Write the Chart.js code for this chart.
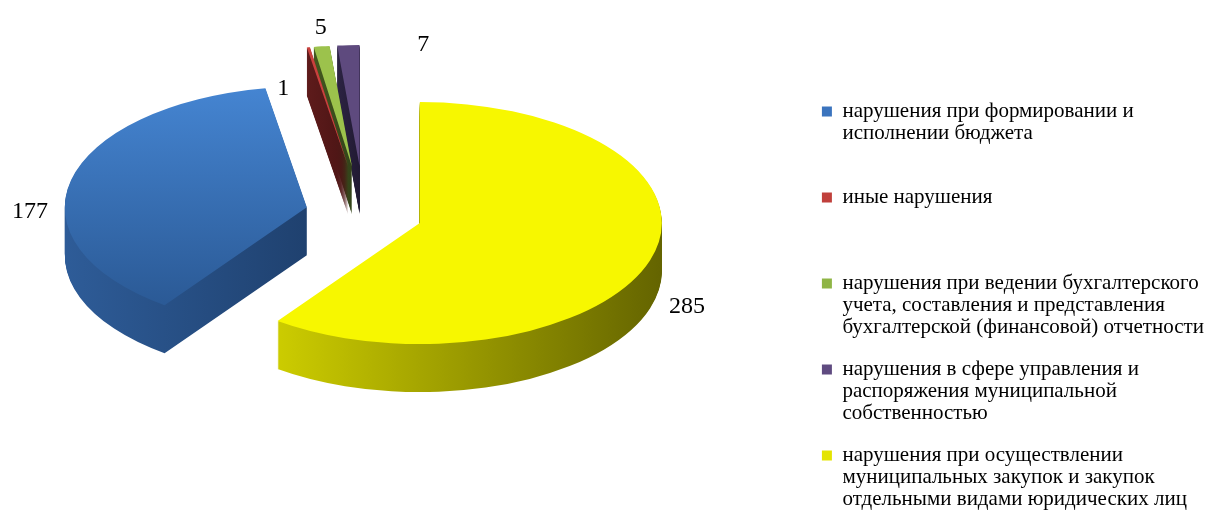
<!DOCTYPE html>
<html>
<head>
<meta charset="utf-8">
<script src="https://cdn.jsdelivr.net/npm/chart.js@4"></script>
<style>
    html, body { margin: 0; background: #ffffff; }
    #wrap { width: 1211px; height: 514px; position: relative; }
</style>
</head>
<body>
<div id="wrap"><canvas id="pieChart"></canvas></div>
<script>
// legend lines are wrapped as in the original
const categories = [
    ['нарушения при формировании и', 'исполнении бюджета'],
    ['иные нарушения'],
    ['нарушения при ведении бухгалтерского', 'учета, составления и представления', 'бухгалтерской (финансовой) отчетности'],
    ['нарушения в сфере управления и', 'распоряжения муниципальной', 'собственностью'],
    ['нарушения при осуществлении', 'муниципальных закупок и закупок', 'отдельными видами юридических лиц']
];
const counts = [177, 1, 5, 7, 285];

const topColors = ['#3a76c2', '#c9413d', '#9cc24c', '#5e4a7e', '#f7f700'];
const sideColors = [
    ['#2e5c98', '#1f416f'],
    ['#5e1b1b', '#4a1414'],
    ['#43581f', '#33431a'],
    ['#2c2342', '#211a33'],
    ['#cccc00', '#646400']
];
const legendColors = ['#3b74be', '#c0403c', '#8fb545', '#5f4b80', '#e4e400'];
const explode = [58.7, 96, 96, 96, 58.7];
const labelNudge = [[-41, 32], [-25, 41], [-1, -19], [75, 0], [37, 46]];

// fake 3D: where the pie sits on screen, how flat it is and how thick
const PIE = { cx: 364, cy: 214, rx: 242, tilt: 0.5, depth: 48 };

function tilt(ctx, arc, i, dy) {
    const k = PIE.rx / arc.outerRadius;
    const mid = (arc.startAngle + arc.endAngle) / 2;
    ctx.translate(PIE.cx, PIE.cy + dy);
    ctx.scale(k, k * PIE.tilt);
    ctx.translate(-arc.x + Math.cos(mid) * explode[i] / k, -arc.y + Math.sin(mid) * explode[i] / k);
    return k;
}

const pie3d = {
    id: 'pie3d',
    beforeDatasetsDraw(chart) {
        const ctx = chart.ctx;
        const arcs = chart.getDatasetMeta(0).data;
        // x range of every slice, for the side shading
        const ranges = arcs.map(arc => {
            let lo = arc.x, hi = arc.x;
            for (let j = 0; j <= 24; j++) {
                const a = arc.startAngle + (arc.endAngle - arc.startAngle) * j / 24;
                const x = arc.x + Math.cos(a) * arc.outerRadius;
                lo = Math.min(lo, x); hi = Math.max(hi, x);
            }
            return [lo, hi];
        });
        // side walls: the same arcs stacked downwards
        for (let d = PIE.depth; d > 0; d--) {
            arcs.forEach((arc, i) => {
                ctx.save();
                tilt(ctx, arc, i, d);
                const g = ctx.createLinearGradient(ranges[i][0], 0, ranges[i][1], 0);
                g.addColorStop(0, sideColors[i][0]);
                g.addColorStop(1, sideColors[i][1]);
                const o = arc.options;
                arc.options = Object.assign(Object.create(o), { backgroundColor: g, borderWidth: 0 });
                arc.draw(ctx);
                arc.options = o;
                ctx.restore();
            });
        }
        // top faces
        arcs.forEach((arc, i) => {
            ctx.save();
            tilt(ctx, arc, i, 0);
            arc.draw(ctx);
            ctx.restore();
        });
        return false;
    },
    afterDraw(chart) {
        const ctx = chart.ctx;
        const arcs = chart.getDatasetMeta(0).data;
        ctx.save();
        ctx.font = '24px "Liberation Serif"';
        ctx.fillStyle = '#000000';
        ctx.textAlign = 'center';
        ctx.textBaseline = 'middle';
        arcs.forEach((arc, i) => {
            const mid = (arc.startAngle + arc.endAngle) / 2;
            const x = PIE.cx + Math.cos(mid) * (PIE.rx + explode[i]) + labelNudge[i][0];
            const y = PIE.cy + Math.sin(mid) * (PIE.rx + explode[i]) * PIE.tilt + labelNudge[i][1];
            ctx.fillText(String(counts[i]), x, y);
        });
        ctx.restore();
    }
};

const ctx = document.getElementById('pieChart').getContext('2d');
new Chart(ctx, {
    type: 'pie',
    data: {
        labels: categories,
        datasets: [{
            data: counts,
            backgroundColor: (c) => {
                const area = c.chart.chartArea;
                if (c.dataIndex !== 0 || !area) return topColors[c.dataIndex];
                const g = c.chart.ctx.createLinearGradient(0, area.top, 0, area.bottom);
                g.addColorStop(0, '#4585d2');
                g.addColorStop(1, '#28558f');
                return g;
            },
            borderWidth: 0,
            clip: false
        }]
    },
    options: {
        responsive: true,
        maintainAspectRatio: false,
        animation: false,
        events: [],
        rotation: 216,
        layout: { padding: { bottom: -17, right: -3 } },
        plugins: {
            tooltip: { enabled: false },
            legend: {
                position: 'right',
                align: 'end',
                labels: {
                    color: '#000000',
                    font: { family: 'Liberation Serif', size: 21, lineHeight: 1.0476 },
                    boxWidth: 10,
                    boxHeight: 10,
                    padding: 20,
                    generateLabels() {
                        return categories.map((lines, i) => {
                            const text = lines.slice();
                            while (text.length < 3) text.push('');
                            return {
                                text: text,
                                fillStyle: legendColors[i],
                                strokeStyle: legendColors[i],
                                lineWidth: 0,
                                hidden: false,
                                index: i
                            };
                        });
                    }
                }
            }
        }
    },
    plugins: [pie3d]
});
</script>
</body>
</html>
